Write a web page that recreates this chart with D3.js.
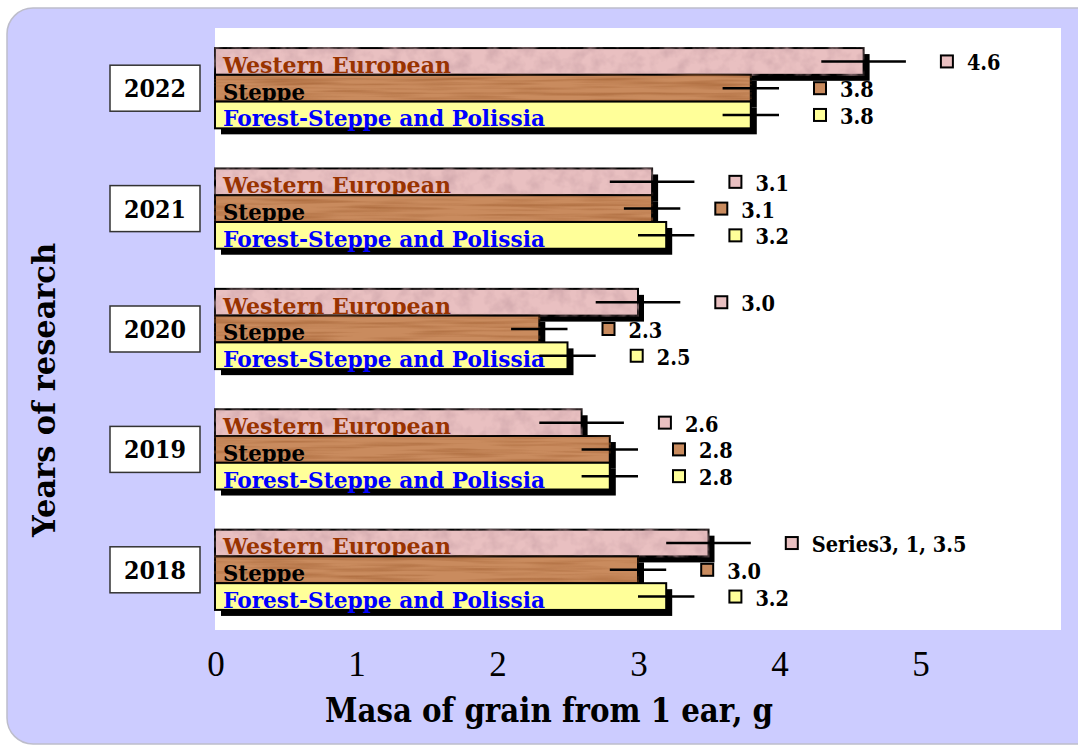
<!DOCTYPE html>
<html>
<head>
<meta charset="utf-8">
<script src="https://cdn.jsdelivr.net/npm/d3@7"></script>
<style>
  html, body { margin: 0; padding: 0; background: #fff; }
  svg { display: block; }
</style>
</head>
<body>
<div id="chart"></div>
<script>
(function () {
  const years = ['2022', '2021', '2020', '2019', '2018'];
  const seriesNames = ['Western European', 'Steppe', 'Forest-Steppe and Polissia'];
  const westernEuropean = [4.6, 3.1, 3.0, 2.6, 3.5];
  const steppe = [3.8, 3.1, 2.3, 2.8, 3.0];
  const forestSteppe = [3.8, 3.2, 2.5, 2.8, 3.2];
  const errorSizes = [0.3, 0.2, 0.2];
  const xTicks = [0, 1, 2, 3, 4, 5];
  const labelOverrides = { '2018|Western European': 'Series3, 1, 3.5' };

  const seriesValues = [westernEuropean, steppe, forestSteppe];
  const seriesFills = ['#E9C0C1', '#C98B5E', '#FFFF99'];
  const seriesFilters = ['url(#marble)', 'url(#wood)', null];
  const textColors = ['#993300', '#000000', '#0000FF'];
  const textWidths = [228, 82, 322];
  const boldFont = '"DejaVu Serif", serif';

  const width = 1078, height = 746;
  const plot = { left: 215, right: 1061, top: 28, bottom: 630 };

  const svg = d3.select('#chart').append('svg')
    .attr('width', width)
    .attr('height', height);

  // textures for the bars
  const defs = svg.append('defs');

  function texture(id, freq, octaves, seed, rgb, gain, bias) {
    const f = defs.append('filter')
      .attr('id', id)
      .attr('color-interpolation-filters', 'sRGB');
    f.append('feTurbulence')
      .attr('type', 'fractalNoise')
      .attr('baseFrequency', freq)
      .attr('numOctaves', octaves)
      .attr('seed', seed)
      .attr('result', 'noise');
    f.append('feColorMatrix')
      .attr('in', 'noise')
      .attr('type', 'matrix')
      .attr('values', '0 0 0 0 ' + rgb[0] + ' 0 0 0 0 ' + rgb[1] + ' 0 0 0 0 ' + rgb[2] + ' ' + gain + ' 0 0 0 ' + bias)
      .attr('result', 'tint');
    f.append('feComposite')
      .attr('in', 'tint')
      .attr('in2', 'SourceGraphic')
      .attr('operator', 'in')
      .attr('result', 'clip');
    const m = f.append('feMerge');
    m.append('feMergeNode').attr('in', 'SourceGraphic');
    m.append('feMergeNode').attr('in', 'clip');
  }
  texture('marble', '0.07', 3, 5, [0.8, 0.64, 0.66], 1.5, -0.6);
  texture('wood', '0.012 0.28', 2, 3, [0.62, 0.36, 0.18], 1.4, -0.58);

  // background panel
  svg.append('rect')
    .attr('x', 7)
    .attr('y', 8)
    .attr('width', 1100)
    .attr('height', 736)
    .attr('rx', 26)
    .attr('fill', '#CCCCFF')
    .attr('stroke', '#BDBDCB')
    .attr('stroke-width', 1.5);

  svg.append('rect')
    .attr('x', plot.left)
    .attr('y', plot.top)
    .attr('width', plot.right - plot.left)
    .attr('height', plot.bottom - plot.top)
    .attr('fill', '#fff');

  const x = d3.scaleLinear()
    .domain([0, 6])
    .range([plot.left, plot.right]);

  const y0 = d3.scaleBand()
    .domain(years)
    .range([plot.top, plot.bottom]);

  const y1 = d3.scaleBand()
    .domain(seriesNames)
    .range([0, y0.bandwidth()])
    .paddingOuter(0.75);

  const rows = [];
  years.forEach(function (yr, i) {
    seriesNames.forEach(function (s, j) {
      rows.push({ year: yr, series: s, si: j, value: seriesValues[j][i], err: errorSizes[j] });
    });
  });

  function barTop(d) { return y0(d.year) + y1(d.series); }
  function barMid(d) { return barTop(d) + y1.bandwidth() / 2; }

  // bars, drawn top to bottom inside each year
  const bars = svg.append('g').attr('class', 'bars')
    .selectAll('g.bar')
    .data(rows)
    .enter()
    .append('g')
    .attr('class', 'bar');

  bars.append('rect')
    .attr('x', x(0) + 6)
    .attr('y', function (d) { return barTop(d) + 6; })
    .attr('width', function (d) { return x(d.value) - x(0); })
    .attr('height', y1.bandwidth())
    .attr('fill', '#000');

  bars.append('rect')
    .attr('x', x(0))
    .attr('y', barTop)
    .attr('width', function (d) { return x(d.value) - x(0); })
    .attr('height', y1.bandwidth())
    .attr('fill', function (d) { return seriesFills[d.si]; })
    .attr('filter', function (d) { return seriesFilters[d.si]; })
    .attr('stroke', '#000')
    .attr('stroke-width', 2);

  bars.append('text')
    .text(function (d) { return d.series; })
    .attr('x', x(0) + 8)
    .attr('y', function (d) { return barTop(d) + y1.bandwidth() - 2; })
    .attr('textLength', function (d) { return textWidths[d.si]; })
    .attr('lengthAdjust', 'spacingAndGlyphs')
    .style('font-family', boldFont)
    .style('font-weight', 'bold')
    .style('font-size', '23px')
    .style('fill', function (d) { return textColors[d.si]; });

  // error bars
  svg.append('g').attr('class', 'errors')
    .selectAll('line')
    .data(rows)
    .enter()
    .append('line')
    .attr('x1', function (d) { return x(d.value - d.err); })
    .attr('x2', function (d) { return x(d.value + d.err); })
    .attr('y1', barMid)
    .attr('y2', barMid)
    .attr('stroke', '#000')
    .attr('stroke-width', 2.5);

  // data labels with legend keys
  const labels = svg.append('g').attr('class', 'data-labels')
    .selectAll('g')
    .data(rows)
    .enter()
    .append('g')
    .attr('transform', function (d) {
      return 'translate(' + (x(d.value + d.err) + 34) + ',' + barMid(d) + ')';
    });

  labels.append('rect')
    .attr('x', 1)
    .attr('y', -6)
    .attr('width', 12)
    .attr('height', 12)
    .attr('fill', function (d) { return seriesFills[d.si]; })
    .attr('stroke', '#000')
    .attr('stroke-width', 2);

  labels.append('text')
    .text(function (d) {
      return labelOverrides[d.year + '|' + d.series] || d.value.toFixed(1);
    })
    .attr('x', 27)
    .attr('y', 9)
    .style('font-family', boldFont)
    .style('font-weight', 'bold')
    .style('font-size', '22px')
    .style('fill', '#000')
    .each(function () {
      // the original face is narrower, squeeze a little
      const w = this.getComputedTextLength();
      d3.select(this)
        .attr('textLength', w * 0.88)
        .attr('lengthAdjust', 'spacingAndGlyphs');
    });

  // year boxes on the category axis
  const yearBoxes = svg.append('g').attr('class', 'years')
    .selectAll('g')
    .data(years)
    .enter()
    .append('g')
    .attr('transform', function (d) {
      return 'translate(155,' + (y0(d) + y0.bandwidth() / 2) + ')';
    });

  yearBoxes.append('rect')
    .attr('x', -45)
    .attr('y', -23)
    .attr('width', 90)
    .attr('height', 46)
    .attr('fill', '#fff')
    .attr('stroke', '#333')
    .attr('stroke-width', 1.5);

  yearBoxes.append('text')
    .text(function (d) { return d; })
    .attr('y', 9)
    .attr('textLength', 62)
    .attr('lengthAdjust', 'spacingAndGlyphs')
    .style('text-anchor', 'middle')
    .style('font-family', boldFont)
    .style('font-weight', 'bold')
    .style('font-size', '25px');

  // value axis labels
  svg.append('g').attr('class', 'x-ticks')
    .selectAll('text')
    .data(xTicks)
    .enter()
    .append('text')
    .text(function (d) { return d; })
    .attr('x', function (d) { return x(d) + 1; })
    .attr('y', 676)
    .style('text-anchor', 'middle')
    .style('font-family', '"Liberation Serif", serif')
    .style('font-size', '35px')
    .style('fill', '#000');

  svg.append('text')
    .text('Masa of grain from 1 ear, g')
    .attr('x', 549)
    .attr('y', 722)
    .attr('textLength', 448)
    .attr('lengthAdjust', 'spacingAndGlyphs')
    .style('text-anchor', 'middle')
    .style('font-family', boldFont)
    .style('font-weight', 'bold')
    .style('font-size', '33px');

  svg.append('text')
    .text('Years of research')
    .attr('transform', 'translate(55,390) rotate(-90)')
    .attr('textLength', 294)
    .attr('lengthAdjust', 'spacingAndGlyphs')
    .style('text-anchor', 'middle')
    .style('font-family', boldFont)
    .style('font-weight', 'bold')
    .style('font-size', '31px');
}());
</script>
</body>
</html>
